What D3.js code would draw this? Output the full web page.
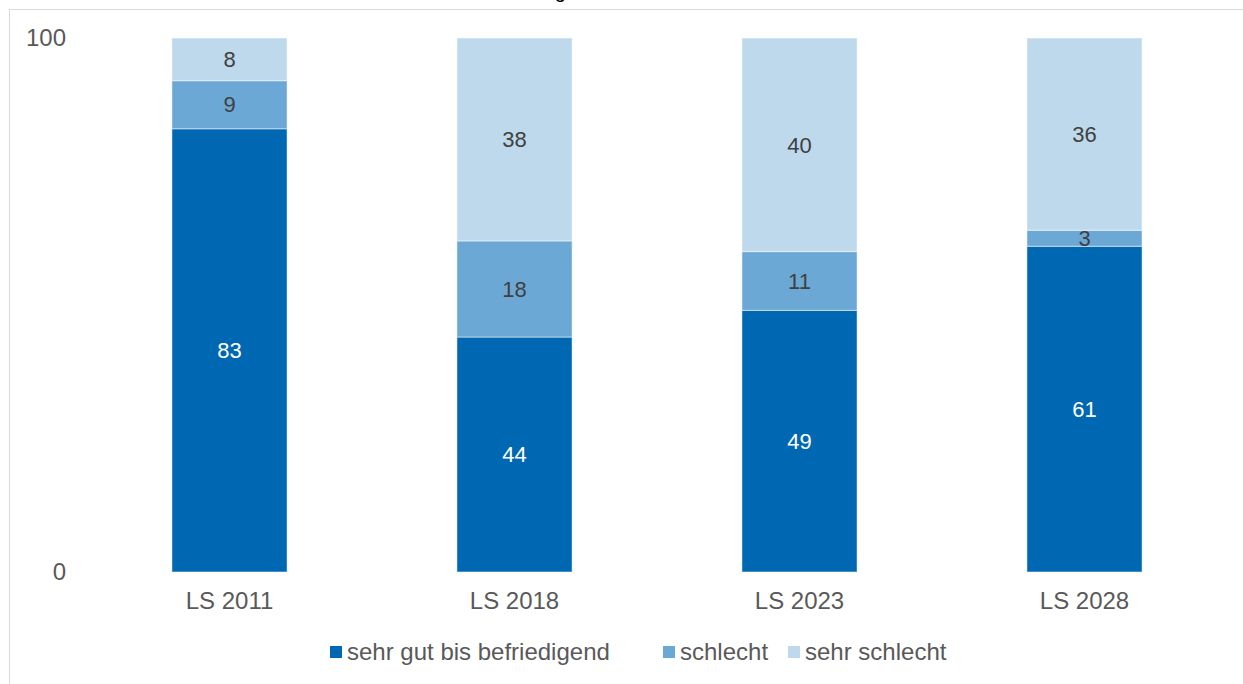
<!DOCTYPE html>
<html>
<head>
<meta charset="utf-8">
<script src="https://cdn.jsdelivr.net/npm/d3@7"></script>
<style>
  body { margin: 0; background: #fff; }
  svg { display: block; font-family: "Liberation Sans", Arial, sans-serif; }
</style>
</head>
<body>
<svg width="1243" height="684"></svg>
<script>
var categories = ["LS 2011", "LS 2018", "LS 2023", "LS 2028"];
var seriesNames = ["sehr gut bis befriedigend", "schlecht", "sehr schlecht"];
var gut = [83, 44, 49, 61];
var schlecht = [9, 18, 11, 3];
var sehrSchlecht = [8, 38, 40, 36];
var yTicks = [0, 100];

var colors = ["#0068b2", "#6ca8d5", "#bed9ec"];
var labelColors = ["#ffffff", "#404040", "#404040"];

var svg = d3.select("svg");

// chart frame (only top and left edges visible in the window)
svg.append("rect")
    .attr("x", 9.5).attr("y", 9.5)
    .attr("width", 1300).attr("height", 700)
    .attr("fill", "none")
    .attr("stroke", "#d9d9d9");

// title, mostly cut off above the window
svg.append("text")
    .attr("x", 566).attr("y", -2)
    .attr("text-anchor", "end")
    .attr("font-size", 20)
    .attr("fill", "#000")
    .text("Zustandsbewertung");

var x = d3.scaleBand()
    .domain(categories)
    .range([87, 1227])
    .paddingInner(0.596)
    .paddingOuter(0.298);

var y = d3.scaleLinear()
    .domain([0, 100])
    .range([572, 38]);

var table = categories.map(function(c, i) {
    return { cat: c, v0: gut[i], v1: schlecht[i], v2: sehrSchlecht[i] };
});
var stacked = d3.stack().keys(["v0", "v1", "v2"])(table);

var layers = svg.append("g").selectAll("g")
    .data(stacked)
    .enter().append("g")
    .attr("fill", function(d, i) { return colors[i]; });

layers.selectAll("rect")
    .data(function(d) { return d; })
    .enter().append("rect")
    .attr("x", function(d) { return x(d.data.cat); })
    .attr("y", function(d) { return y(d[1]); })
    .attr("width", x.bandwidth())
    .attr("height", function(d) { return y(d[0]) - y(d[1]); })
    .attr("stroke", "rgba(255,255,255,0.5)")
    .attr("stroke-width", 1);

// value labels
layers.each(function(layer, i) {
    d3.select(this).selectAll("text")
        .data(layer)
        .enter().append("text")
        .attr("x", function(d) { return x(d.data.cat) + x.bandwidth() / 2; })
        .attr("y", function(d) { return y((d[0] + d[1]) / 2); })
        .attr("dy", "0.35em")
        .attr("text-anchor", "middle")
        .attr("font-size", 22)
        .attr("fill", labelColors[i])
        .text(function(d) { return d[1] - d[0]; });
});

// y axis (labels only)
var yAxis = svg.append("g")
    .attr("transform", "translate(66,0)")
    .call(d3.axisLeft(y).tickValues(yTicks).tickSize(0).tickPadding(0));
yAxis.select(".domain").remove();
yAxis.selectAll("text")
    .attr("font-size", 24)
    .attr("font-family", "Liberation Sans, Arial, sans-serif")
    .attr("fill", "#595959");

// x axis (labels only)
var xAxis = svg.append("g")
    .attr("transform", "translate(0,572)")
    .call(d3.axisBottom(x).tickSize(0).tickPadding(20));
xAxis.select(".domain").remove();
xAxis.selectAll("text")
    .attr("font-size", 24)
    .attr("font-family", "Liberation Sans, Arial, sans-serif")
    .attr("fill", "#595959");

// legend
var legendX = [330, 663, 788];
var legend = svg.append("g").selectAll("g")
    .data(seriesNames)
    .enter().append("g")
    .attr("transform", function(d, i) { return "translate(" + legendX[i] + ",646)"; });
legend.append("rect")
    .attr("width", 12).attr("height", 12)
    .attr("fill", function(d, i) { return colors[i]; });
legend.append("text")
    .attr("x", 17).attr("y", 6)
    .attr("dy", "0.35em")
    .attr("font-size", 24)
    .attr("fill", "#595959")
    .text(function(d) { return d; });
</script>
</body>
</html>
